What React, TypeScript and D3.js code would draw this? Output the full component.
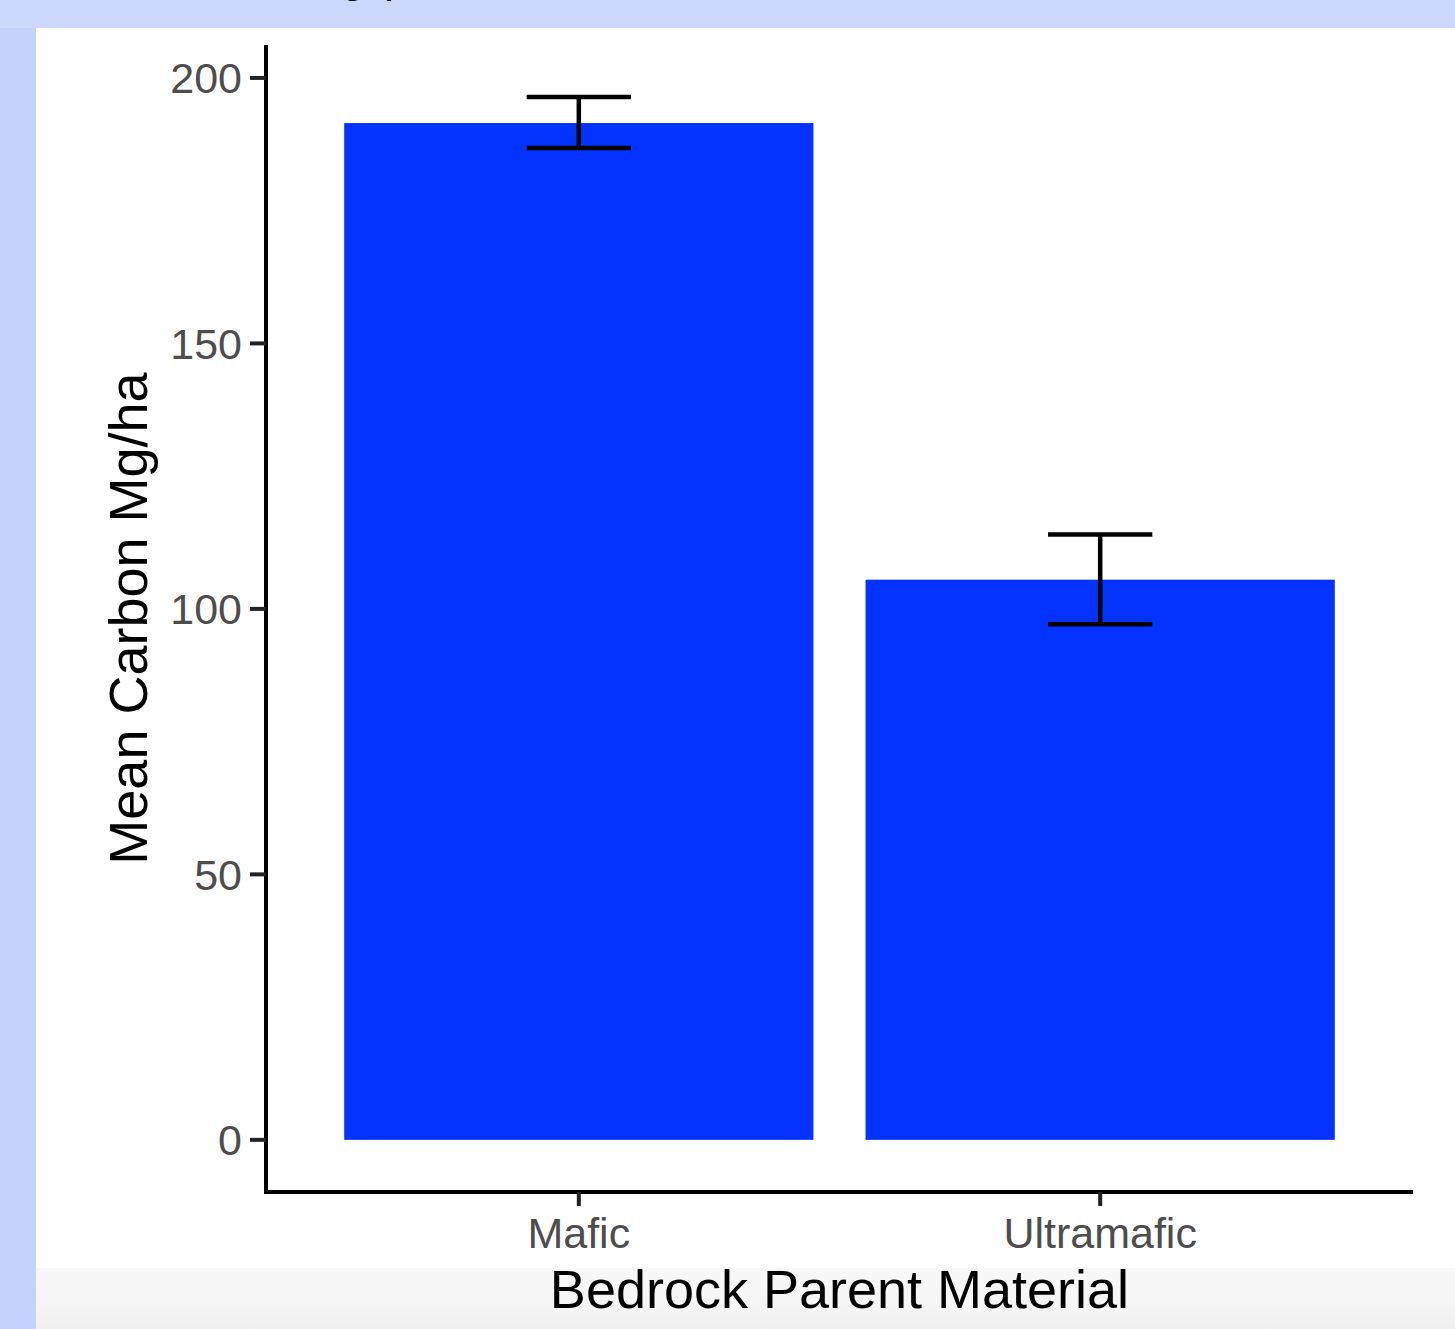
import React from "react";
import * as d3 from "d3";

const categories = ["Mafic", "Ultramafic"];
const means = [191.5, 105.5];
const errLow = [186.8, 97.1];
const errHigh = [196.4, 114.0];
const yTicks = [0, 50, 100, 150, 200];
const xTitle = "Bedrock Parent Material";
const yTitle = "Mean Carbon Mg/ha";

export default function App() {
  const W = 1455, H = 1329;
  const left = 266, right = 1413, top = 45, bottom = 1192;
  const y = d3.scaleLinear().domain([-9.82, 206.2]).range([bottom, top]);
  const x = d3.scalePoint().domain(categories).range([left, right]).padding(0.6);
  const step = x.step();
  const cx = (i: number) => x(categories[i]) as number;
  const barW = 0.9 * step;
  const capW = 0.2 * step;
  const font = "'Liberation Sans', Arial, Helvetica, sans-serif";
  return (
    <svg width={W} height={H} style={{ position: "absolute", left: 0, top: 0, display: "block" }}>
      <defs>
        <linearGradient id="bot" x1="0" y1="0" x2="0" y2="1">
          <stop offset="0" stopColor="#f8f8f8" />
          <stop offset="0.6" stopColor="#f5f5f5" />
          <stop offset="1" stopColor="#efefef" />
        </linearGradient>
      </defs>
      <rect x={0} y={0} width={W} height={H} fill="#ccd9fd" />
      <rect x={0} y={28} width={36} height={H - 28} fill="#c5d3fc" />
      <rect x={36} y={28} width={W - 36} height={1241} fill="#ffffff" />
      <rect x={36} y={1268} width={W - 36} height={H - 1268} fill="url(#bot)" />
      <text x={341} y={-8} fontFamily={font} fontSize={44} fill="#000">g</text>
      <text x={384} y={-8} fontFamily={font} fontSize={44} fill="#000">p</text>
      {categories.map((c, i) => (
        <rect key={c} x={cx(i) - barW / 2} y={y(means[i])} width={barW} height={y(0) - y(means[i])} fill="#0433ff" />
      ))}
      {categories.map((c, i) => (
        <g key={c + "e"} stroke="#000" strokeWidth={4.5} fill="none">
          <line x1={cx(i)} x2={cx(i)} y1={y(errLow[i])} y2={y(errHigh[i])} />
          <line x1={cx(i) - capW / 2} x2={cx(i) + capW / 2} y1={y(errLow[i])} y2={y(errLow[i])} />
          <line x1={cx(i) - capW / 2} x2={cx(i) + capW / 2} y1={y(errHigh[i])} y2={y(errHigh[i])} />
        </g>
      ))}
      <line x1={left} x2={left} y1={top} y2={bottom + 2} stroke="#000" strokeWidth={4} />
      <line x1={left - 2} x2={right} y1={bottom} y2={bottom} stroke="#000" strokeWidth={4} />
      {yTicks.map((t) => (
        <g key={t}>
          <line x1={left - 16} x2={left} y1={y(t)} y2={y(t)} stroke="#222" strokeWidth={4} />
          <text x={left - 24} y={y(t)} dy="0.36em" textAnchor="end" fontFamily={font} fontSize={43} fill="#4d4d4d">{t}</text>
        </g>
      ))}
      {categories.map((c, i) => (
        <g key={c + "t"}>
          <line x1={cx(i)} x2={cx(i)} y1={bottom} y2={bottom + 14} stroke="#222" strokeWidth={4} />
          <text x={cx(i)} y={1248} textAnchor="middle" fontFamily={font} fontSize={43} fill="#4d4d4d">{c}</text>
        </g>
      ))}
      <text x={(left + right) / 2} y={1308} textAnchor="middle" fontFamily={font} fontSize={54} fill="#000">{xTitle}</text>
      <text transform={`translate(147, ${(top + bottom) / 2}) rotate(-90)`} textAnchor="middle" fontFamily={font} fontSize={54} fill="#000">{yTitle}</text>
    </svg>
  );
}
